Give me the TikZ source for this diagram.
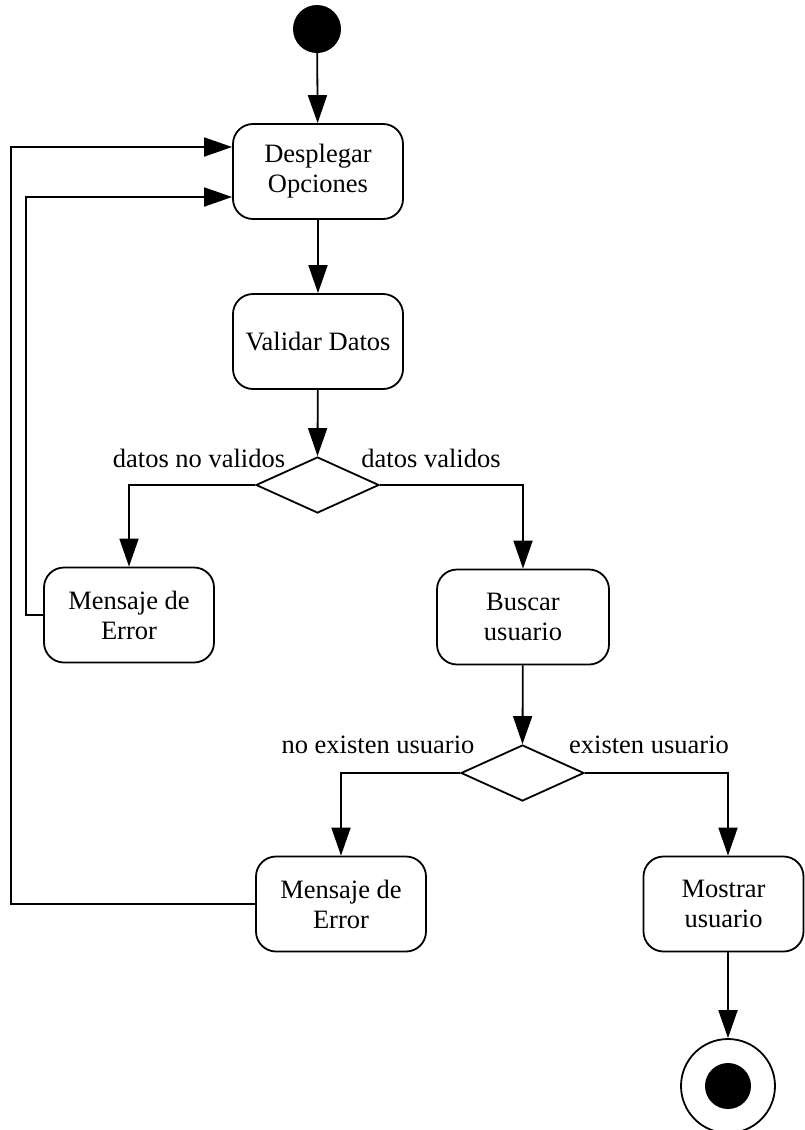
\documentclass[tikz,border=0pt]{standalone}
\usepackage{fontspec}
\setmainfont{Liberation Serif}
\usetikzlibrary{arrows.meta,shapes.geometric}
\begin{document}
\begin{tikzpicture}[x=1pt,y=-1pt,
  every node/.style={font=\fontsize{26.5}{30}\selectfont},
  act/.style={draw,line width=1.8pt,rounded corners=20pt,align=center,inner sep=0pt,minimum width=170pt,minimum height=95pt},
  dec/.style={draw,line width=1.8pt,diamond,inner sep=0pt,minimum width=123pt,minimum height=56pt},
  arr/.style={line width=1.8pt,-{Triangle[length=28pt,width=19pt]}},
  lbl/.style={inner sep=0pt}]
\useasboundingbox (0,0) rectangle (804,1130);
\node[circle,fill=black,inner sep=0pt,minimum size=48pt] (start) at (317,29) {};
\node[act] (desp) at (318,171.5) {Desplegar\\Opciones};
\node[act] (valid) at (318,341.5) {Validar Datos};
\node[dec] (d1) at (317.5,485) {};
\node[act] (err1) at (129,615) {Mensaje de\\Error};
\node[act,minimum width=172pt] (busc) at (523,617) {Buscar\\usuario};
\node[dec] (d2) at (522.5,773) {};
\node[act] (err2) at (341,904) {Mensaje de\\Error};
\node[act,minimum width=160pt] (most) at (723.5,904) {Mostrar\\usuario};
\node[circle,draw,line width=1.8pt,inner sep=0pt,minimum size=94pt] (end) at (728,1086) {};
\node[circle,fill=black,inner sep=0pt,minimum size=46pt] (endin) at (end.center) {};
\node[lbl] (l1) at (199,458) {datos no validos};
\node[lbl] (l2) at (431,458) {datos validos};
\node[lbl] (l3) at (378,745) {no existen usuario};
\node[lbl] (l4) at (649,745) {existen usuario};
\draw[arr] (start) -- (desp);
\draw[arr] (desp) -- (valid);
\draw[arr] (valid) -- (d1.north);
\draw[arr] (d1.west) -| (err1.north);
\draw[arr] (d1.east) -| (busc.north);
\draw[arr] (err1.west) -- ++(-17,0) |- ([yshift=-25.5pt]desp.west);
\draw[arr] (err2.west) -- ++(-244,0) |- ([yshift=24.5pt]desp.west);
\draw[arr] (busc) -- (d2.north);
\draw[arr] (d2.west) -| (err2.north);
\draw[arr] (d2.east) -| (end|-most.north);
\draw[arr] (end|-most.south) -- (end.north);
\end{tikzpicture}
\end{document}
